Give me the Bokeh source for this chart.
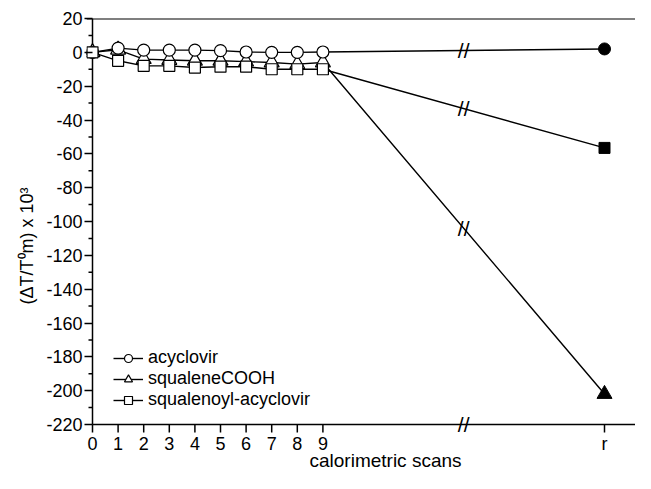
from bokeh.plotting import figure
from bokeh.models import FixedTicker, Range1d, Legend, LegendItem, Span
from bokeh.core.properties import value
from bokeh.embed import file_html
from bokeh.resources import INLINE

# ---- data ----
scans = [0, 1, 2, 3, 4, 5, 6, 7, 8, 9]
r_tick_label = "r"
R_POS = 20          # position of the "r" category on the broken axis
BREAK_X = 14.5      # where the axis break is drawn
x_title = "calorimetric scans"
y_title = "(ΔT/T⁰m) x 10³"

acyclovir = [0, 2.5, 1.3, 1.3, 1.3, 1.0, 0.2, 0, 0, 0.2]
acyclovir_r = 2

squaleneCOOH = [0, 1.5, -4, -4.5, -5, -5, -5.5, -6, -7, -6]
squaleneCOOH_r = -202

squalenoyl_acyclovir = [0, -5, -8, -8, -9, -8.5, -8.5, -10, -10, -10]
squalenoyl_acyclovir_r = -56.5

y_ticks = list(range(-220, 21, 20))
y_minor = list(range(-210, 20, 20))

# ---- layout constants (pixels) ----
FONT = "Liberation Sans"
W, H = 635, 473
FRAME_LEFT, FRAME_TOP = 86, 18
AXIS_X_PX = 92              # pixel column of x = 0 (the y axis)
AXIS_PX = 424               # pixel row of y = -220 (the x axis)
PX_X = 25.6                 # pixels per scan
Y_MIN, Y_MAX = -220, 20
PX_Y = (AXIS_PX - FRAME_TOP) / (Y_MAX - Y_MIN)
y_bottom = Y_MIN - (H - AXIS_PX) / PX_Y
x_start = -(AXIS_X_PX - FRAME_LEFT) / PX_X
x_end = x_start + (W - FRAME_LEFT) / PX_X

def py(px):   # pixels below the x axis -> data y
    return Y_MIN - px / PX_Y

def px_(n):   # pixels -> data x distance
    return n / PX_X

p = figure(width=W, height=H, output_backend="svg", toolbar_location=None,
           x_range=Range1d(x_start, x_end), y_range=Range1d(y_bottom, Y_MAX),
           x_axis_location=None,
           min_border_left=FRAME_LEFT, min_border_right=0,
           min_border_top=FRAME_TOP, min_border_bottom=0)
p.outline_line_color = None
p.grid.visible = False

# ---- y axis (bokeh labels + major ticks) ----
ya = p.yaxis[0]
ya.ticker = FixedTicker(ticks=y_ticks, minor_ticks=[])
ya.major_label_overrides = {t: str(t) for t in y_ticks}
ya.axis_line_color = None
ya.major_tick_out = 2
ya.major_tick_in = AXIS_X_PX - FRAME_LEFT
ya.major_label_standoff = 2
ya.major_label_text_font = FONT
ya.major_label_text_font_size = "18px"
ya.major_label_text_color = "black"
ya.major_tick_line_width = 1.5
ya.axis_label = y_title
ya.axis_label_text_font = FONT
ya.axis_label_text_font_size = "18px"
ya.axis_label_text_font_style = "normal"
ya.axis_label_text_color = "black"
ya.axis_label_standoff = 6

# y axis line (stops at the x axis) and minor ticks
p.segment(x0=[0], y0=[Y_MIN], x1=[0], y1=[Y_MAX], line_color="black", line_width=1.5)
p.segment(x0=[-px_(4)] * len(y_minor), y0=y_minor, x1=[0] * len(y_minor), y1=y_minor,
          line_color="black", line_width=1.5)
# top border line
p.add_layout(Span(location=Y_MAX, dimension="width", line_color="black", line_width=2))

# ---- x axis drawn by hand (broken axis) ----
x_ticks = scans + [R_POS]
x_labels = [str(s) for s in scans] + [r_tick_label]
p.segment(x0=[0], y0=[Y_MIN], x1=[x_end], y1=[Y_MIN], line_color="black", line_width=1.5)
p.segment(x0=x_ticks, y0=[Y_MIN] * len(x_ticks), x1=x_ticks,
          y1=[py(8)] * len(x_ticks), line_color="black", line_width=1.5)
p.text(x=x_ticks, y=[py(19)] * len(x_ticks), text=x_labels, text_align="center",
       text_baseline="middle", text_font=value(FONT), text_font_size="18px",
       text_color="black")
p.text(x=[(385 - AXIS_X_PX) / PX_X], y=[py(36)], text=[x_title], text_align="center",
       text_baseline="middle", text_font=value(FONT), text_font_size="19px",
       text_color="black")

# ---- series ----
xs = scans + [R_POS]
series = [
    ("squaleneCOOH", squaleneCOOH, squaleneCOOH_r, "triangle", 15),
    ("acyclovir", acyclovir, acyclovir_r, "circle", 12),
    ("squalenoyl-acyclovir", squalenoyl_acyclovir, squalenoyl_acyclovir_r, "square", 11),
]
items = {}
break_y = [Y_MIN]
for name, vals, rv, marker, size in series:
    ln = p.line(xs, vals + [rv], line_color="black", line_width=1.4)
    sc = p.scatter(scans, vals, marker=marker, size=size, fill_color="white",
                   line_color="black", line_width=1.2)
    p.scatter([R_POS], [rv], marker=marker, size=size, fill_color="black",
              line_color="black")
    items[name] = [ln, sc]
    break_y.append(vals[-1] + (rv - vals[-1]) * (BREAK_X - scans[-1]) / (R_POS - scans[-1]))

# break marks on the lines and on the x axis
p.text(x=[BREAK_X] * len(break_y), y=break_y, text=["//"] * len(break_y),
       text_align="center", text_baseline="middle", text_font=value(FONT),
       text_font_size="21px", text_color="black")

legend = Legend(items=[LegendItem(label=n, renderers=items[n])
                       for n in ["acyclovir", "squaleneCOOH", "squalenoyl-acyclovir"]],
                location=(113 - FRAME_LEFT, H - 410), padding=0, margin=0, spacing=0,
                glyph_width=30, glyph_height=20, label_height=20,
                label_standoff=5, border_line_color=None,
                background_fill_alpha=0,
                label_text_font=FONT, label_text_font_size="18px",
                label_text_color="black")
p.add_layout(legend)

open("out.html", "w").write(file_html(p, INLINE))
